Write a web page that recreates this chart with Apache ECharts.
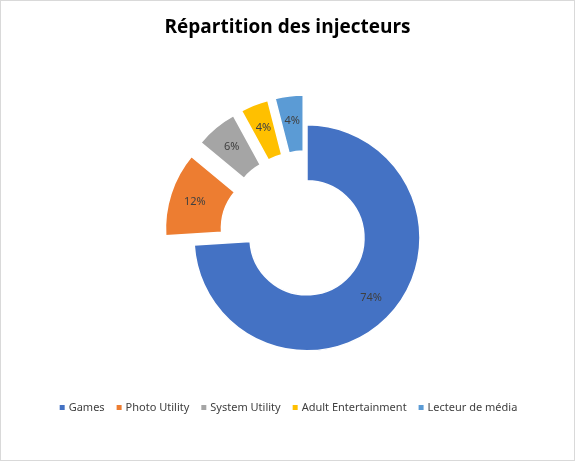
<!DOCTYPE html>
<html><head><meta charset="utf-8">
<script src="https://cdn.jsdelivr.net/npm/echarts@6/dist/echarts.min.js"></script>
<style>html,body{margin:0;padding:0;background:#fff}#c{width:573px;height:459px;border:1px solid #d9d9d9}</style>
</head><body><div id="c"></div>
<script>
const categories=['Games','Photo Utility','System Utility','Adult Entertainment','Lecteur de média'];
const values=[74,12,6,4,4];
const exploded=[false,true,true,true,true];
const colors=['#4472C4','#ED7D31','#A5A5A5','#FFC000','#5B9BD5'];
const chart=echarts.init(document.getElementById('c'));
chart.setOption({
  animation:false,
  title:{text:'Répartition des injecteurs',left:'center',top:12,textStyle:{fontFamily:'Open Sans',fontSize:19,fontWeight:'bold',color:'#000'}},
  legend:{bottom:42,left:'center',itemWidth:7,itemHeight:7,itemGap:10,icon:'rect',selectedMode:false,
    textStyle:{fontFamily:'Noto Sans',fontSize:11,color:'#404040',padding:[0,0,0,-2]}},
  series:[{type:'pie',center:['53.4%','51.6%'],radius:[57,113],startAngle:90,clockwise:true,
    selectedMode:'multiple',selectedOffset:30,
    itemStyle:{borderColor:'#fff',borderWidth:1.5},
    label:{position:'inside',formatter:'{d}%',fontFamily:'Noto Sans',fontSize:11,color:'#404040'},
    labelLine:{show:false},
    emphasis:{disabled:true},
    data:categories.map((n,i)=>({name:n,value:values[i],selected:exploded[i],itemStyle:{color:colors[i]}}))
  }]
});
</script></body></html>
